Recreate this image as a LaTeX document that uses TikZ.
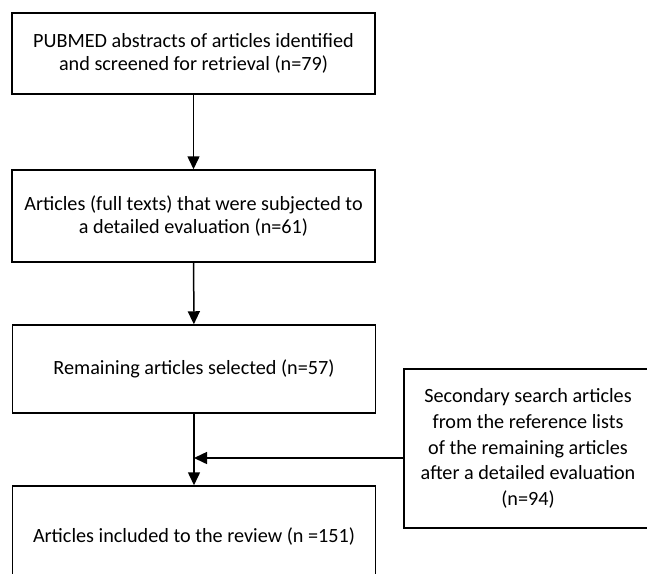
\documentclass[tikz,border=0pt]{standalone}
\usepackage{fontspec}
\setmainfont{Carlito}
\usepackage{tikz}
\usetikzlibrary{calc}
\usetikzlibrary{positioning}
\usetikzlibrary{arrows.meta}

\begin{document}
\begin{tikzpicture}[
  x=1pt, y=-1pt,
  stageBox/.style={draw=black, line width=1.5pt, rectangle, align=center,
    minimum width=363pt, inner sep=0pt,
    font=\fontsize{20.2}{22.5}\selectfont},
  sideBox/.style={draw=black, line width=1.5pt, rectangle, align=center,
    minimum width=248pt, minimum height=159pt, inner sep=0pt,
    font=\fontsize{20.2}{25.8}\selectfont},
  flowArrow/.style={draw=black, line width=1.5pt,
    -{Triangle[width=12pt,length=13pt]}},
]

\clip (0,0) rectangle (647,573);

% --- Main stages ---
\node [stageBox, minimum height=81pt] (abstracts) at (193.5,53.5)
  {PUBMED abstracts of articles identified\\and screened for retrieval (n=79)};
\node [stageBox, minimum height=92pt] (fullTexts) at (193.5,216)
  {Articles (full texts) that were subjected to\\a detailed evaluation (n=61)};
\node [stageBox, minimum height=88pt] (remaining) at (194,369)
  {Remaining articles selected (n=57)};
\node [stageBox, minimum height=102pt] (included) at (194,537)
  {Articles included to the review (n =151)};

% --- Secondary search ---
\node [sideBox] (secondary) at (528,448.5)
  {Secondary search articles\\from the reference lists\\of the remaining articles\\after a detailed evaluation\\(n=94)};

\coordinate (secOut) at ($(secondary.west)+(0,9.5)$);
\coordinate (joinPt) at (secOut -| remaining.south);

\draw[flowArrow] (abstracts) -- (fullTexts);
\draw[flowArrow] (fullTexts) -- (remaining);
\draw[flowArrow] (remaining) -- (included);
\draw[flowArrow] (secOut) -- (joinPt);

\end{tikzpicture}
\end{document}
